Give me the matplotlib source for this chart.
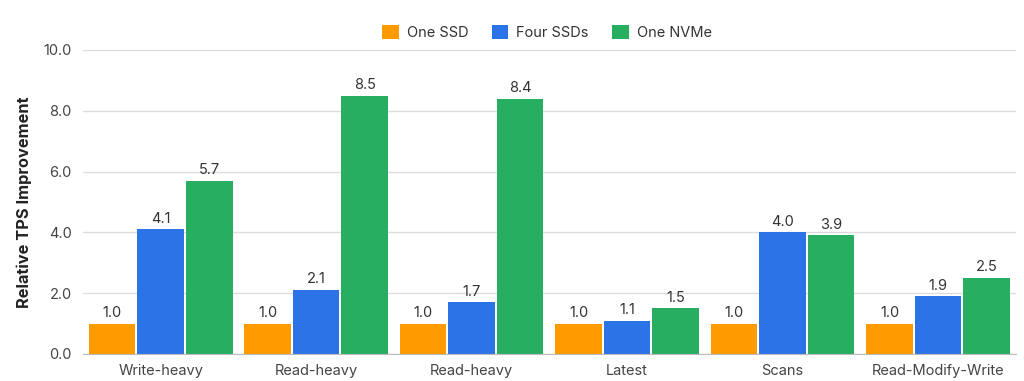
import numpy as np
import matplotlib
matplotlib.use('Agg')
import matplotlib.pyplot as plt

plt.rcParams['font.family'] = ['Inter', 'DejaVu Sans']

categories = ['Write-heavy', 'Read-heavy', 'Read-heavy', 'Latest', 'Scans', 'Read-Modify-Write']
series_names = ['One SSD', 'Four SSDs', 'One NVMe']
one_ssd = [1.0, 1.0, 1.0, 1.0, 1.0, 1.0]
four_ssds = [4.1, 2.1, 1.7, 1.1, 4.0, 1.9]
one_nvme = [5.7, 8.5, 8.4, 1.5, 3.9, 2.5]
y_ticks = [0.0, 2.0, 4.0, 6.0, 8.0, 10.0]

colors = ['#FF9A00', '#2B73E6', '#28AE60']

fig = plt.figure(figsize=(10.24, 3.81), dpi=100)
ax = fig.add_axes([0.081, 0.071, 0.911, 0.798])

x = np.arange(len(categories))
width = 0.30
step = 0.312
for i, (vals, name) in enumerate(zip([one_ssd, four_ssds, one_nvme], series_names)):
    pos = x + (i - 1) * step
    bars = ax.bar(pos, vals, width, color=colors[i], label=name, zorder=3)
    for b, v in zip(bars, vals):
        ax.text(b.get_x() + b.get_width() / 2, v + 0.12, '{:.1f}'.format(v),
                ha='center', va='bottom', fontsize=10.5, color='#333333')

ax.set_xlim(-0.5, len(categories) - 0.5)
ax.set_ylim(0, 10)
ax.set_yticks(y_ticks)
ax.set_yticklabels(['{:.1f}'.format(t) for t in y_ticks])
ax.set_xticks(x)
ax.set_xticklabels(categories)
ax.tick_params(axis='both', length=0, labelsize=10.5, labelcolor='#444444')
ax.tick_params(axis='x', pad=7)
ax.tick_params(axis='y', pad=8)
ax.grid(axis='y', color='#DDDDDD', linewidth=1, zorder=0)
for s in ['top', 'right', 'left']:
    ax.spines[s].set_visible(False)
ax.spines['bottom'].set_color('#BBBBBB')
ax.spines['bottom'].set_zorder(4)
ax.set_ylabel('Relative TPS Improvement', fontsize=11.8, fontweight='bold', color='#222222', labelpad=8)

leg = fig.legend(loc='upper center', bbox_to_anchor=(0.534, 0.97), ncol=3, frameon=False,
                 fontsize=10.5, handlelength=1.15, handleheight=1.15, columnspacing=1.6,
                 handletextpad=0.55)
for t in leg.get_texts():
    t.set_color('#333333')

plt.savefig('out.png', dpi=100)
plt.close()
